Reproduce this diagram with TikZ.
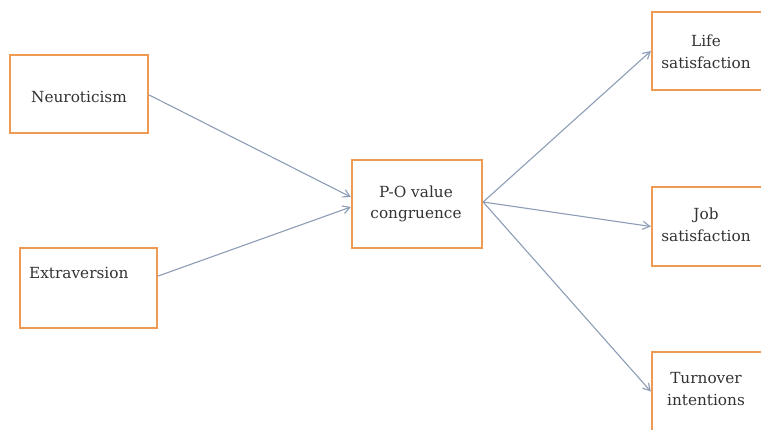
\documentclass[tikz,border=0pt]{standalone}
\usepackage{fontspec}
\setmainfont{DejaVu Serif}
\usetikzlibrary{arrows.meta}
\definecolor{boxorange}{HTML}{EE9A55}
\definecolor{linkgray}{HTML}{8C9DB5}
\definecolor{inkgray}{HTML}{333333}
\begin{document}
\begin{tikzpicture}[x=1pt,y=-1pt,
  varbox/.style={draw=boxorange,line width=2.3pt,fill=white,inner sep=0pt},
  label text/.style={text=inkgray,font=\fontsize{15.3}{21.5}\selectfont,align=center,inner sep=0pt},
  link/.style={draw=linkgray,line width=1.1pt,-{Straight Barb[length=7pt,width=8pt]}}]
  \useasboundingbox (0,0) rectangle (761,429);
  \begin{scope}
    \clip (0,0) rectangle (761,429);
    % predictors
    \node[varbox,minimum width=138pt,minimum height=78pt] (neuro) at (79,94) {};
    \node[label text] (neurotext) at (79,97) {Neuroticism};
    \node[varbox,minimum width=137pt,minimum height=80pt] (extra) at (88.5,288) {};
    \node[label text,anchor=west] (extratext) at (29,273) {Extraversion};
    % mediator
    \node[varbox,minimum width=130pt,minimum height=88pt] (po) at (417,204) {};
    \node[label text] (potext) at (416,204) {P-O value\\congruence};
    % outcomes
    \node[varbox,minimum width=112pt,minimum height=78pt] (life) at (708,51) {};
    \node[label text] (lifetext) at (706,52) {Life\\satisfaction};
    \node[varbox,minimum width=112pt,minimum height=79pt] (job) at (708,226.5) {};
    \node[label text] (jobtext) at (706,225) {Job\\satisfaction};
    \node[varbox,minimum width=112pt,minimum height=79pt] (turn) at (708,391.5) {};
    \node[label text] (turntext) at (706,389) {Turnover\\intentions};
    % paths
    \draw[link] ([yshift=-1pt]neuro.east) -- ([yshift=7pt]po.west);
    \draw[link] ([yshift=12pt]extra.east) -- ([yshift=-3pt]po.west);
    \draw[link] ([yshift=2pt]po.east) -- (life.west);
    \draw[link] ([yshift=2pt]po.east) -- (job.west);
    \draw[link] ([yshift=2pt]po.east) -- (turn.west);
  \end{scope}
\end{tikzpicture}
\end{document}
